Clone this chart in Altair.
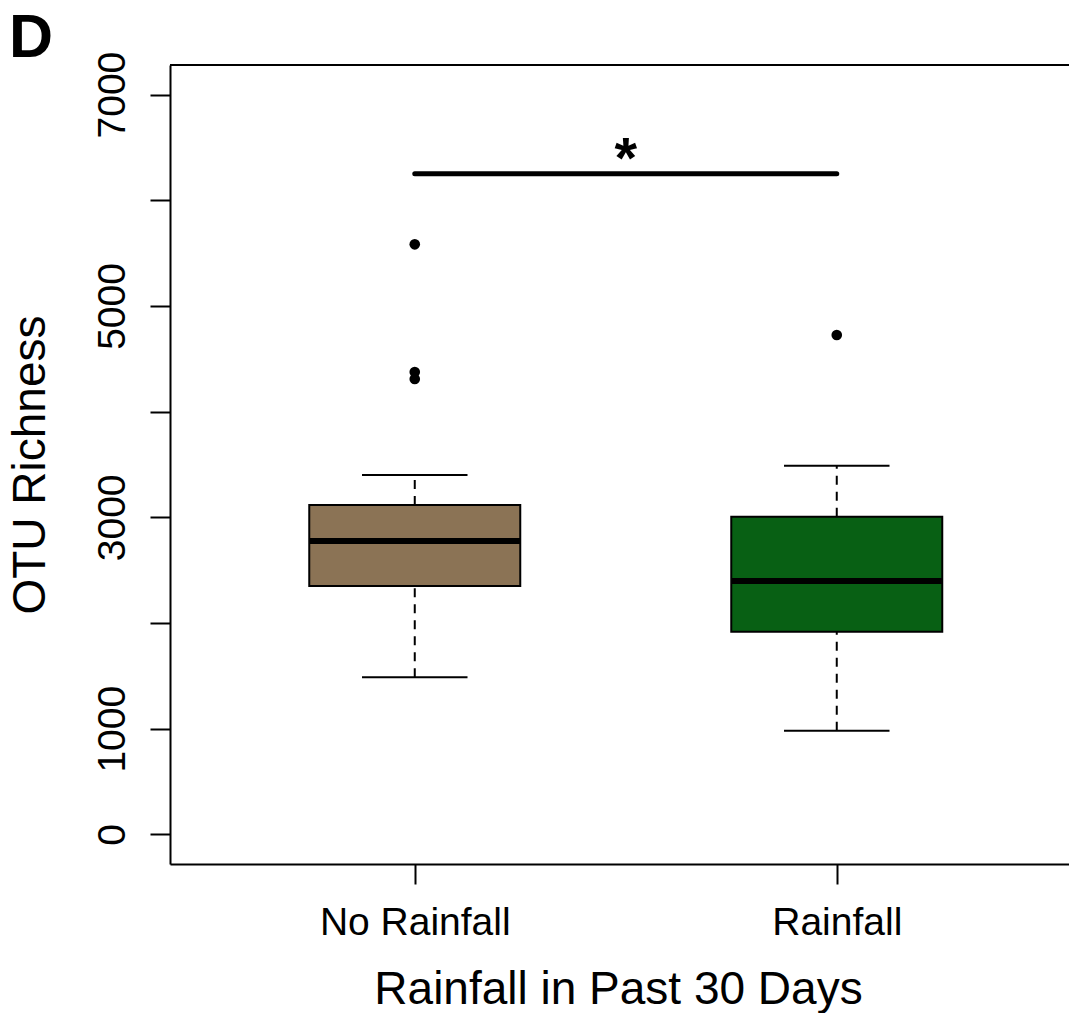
import altair as alt
import pandas as pd

# ---- data ----
groups = ["No Rainfall", "Rainfall"]
positions = [1, 2]
lower_whisker = [1486, 981]
q1 = [2350, 1918]
median = [2777, 2398]
q3 = [3117, 3006]
upper_whisker = [3400, 3489]
fill_colors = ["#8B7355", "#086014"]

outlier_group = ["No Rainfall", "No Rainfall", "No Rainfall", "Rainfall"]
outlier_value = [5583, 4375, 4309, 4725]

y_ticks = [0, 1000, 2000, 3000, 4000, 5000, 6000, 7000]
y_labeled = [0, 1000, 3000, 5000, 7000]
sig_y = 6250
sig_text = "*"
panel_label = "D"

# ---- layout constants ----
FONT = "Liberation Sans"
W, H = 899, 799
X_MIN = 0.42
X_MAX = X_MIN + W / 422.0
Y_MIN, Y_MAX = -280, 7280
BOX_HALF = 0.25
CAP_HALF = 0.125

pos_of = dict(zip(groups, positions))

box_df = pd.DataFrame({
    "group": groups,
    "pos": positions,
    "lo": lower_whisker,
    "q1": q1,
    "med": median,
    "q3": q3,
    "hi": upper_whisker,
    "color": fill_colors,
})
box_df["left"] = box_df["pos"] - BOX_HALF
box_df["right"] = box_df["pos"] + BOX_HALF
box_df["capl"] = box_df["pos"] - CAP_HALF
box_df["capr"] = box_df["pos"] + CAP_HALF

out_df = pd.DataFrame({
    "group": outlier_group,
    "pos": [pos_of[g] for g in outlier_group],
    "value": outlier_value,
})

sig_df = pd.DataFrame({
    "x1": [positions[0]], "x2": [positions[1]],
    "xm": [(positions[0] + positions[1]) / 2], "y": [sig_y], "t": [sig_text],
})

frame_df = pd.DataFrame({"x1": [X_MIN], "x2": [X_MAX], "y": [Y_MAX]})
label_df = pd.DataFrame({"t": [panel_label]})

x_label_expr = " : ".join(
    [f"datum.value == {p} ? '{g}'" for p, g in zip(positions, groups)]
) + " : ''"
y_label_expr = (
    "indexof([" + ",".join(str(v) for v in y_labeled) + "], datum.value) >= 0 ? datum.label : ''"
)

x_scale = alt.Scale(domain=[X_MIN, X_MAX], nice=False, zero=False)
y_scale = alt.Scale(domain=[Y_MIN, Y_MAX], nice=False, zero=False)

x_axis = alt.Axis(
    title="Rainfall in Past 30 Days",
    values=positions,
    labelExpr=x_label_expr,
    grid=False,
    domainColor="black", domainWidth=2,
    tickColor="black", tickWidth=2, tickSize=20,
    labelFont=FONT, labelFontSize=39, labelColor="black", labelLimit=1000,
    labelBaseline="alphabetic", labelPadding=50, labelFlush=False,
    titleFont=FONT, titleFontSize=46, titleFontWeight="normal", titleColor="black",
    titleBaseline="alphabetic", titleAlign="center", titleX=448, titleY=139,
    titleLimit=2000,
)
y_axis = alt.Axis(
    title="OTU Richness",
    values=y_ticks,
    format="d",
    labelExpr=y_label_expr,
    grid=False,
    domainColor="black", domainWidth=2,
    tickColor="black", tickWidth=2, tickSize=20,
    labelFont=FONT, labelFontSize=39, labelColor="black", labelLimit=1000,
    labelAngle=270, labelAlign="center", labelBaseline="alphabetic",
    labelPadding=26, labelFlush=False, labelOverlap=False,
    titleFont=FONT, titleFontSize=46, titleFontWeight="normal", titleColor="black",
    titleAngle=270, titleBaseline="alphabetic", titleAlign="center",
    titleX=-126, titleY=H / 2, titleLimit=2000,
)

def X(field):
    return alt.X(field, type="quantitative", scale=x_scale, axis=x_axis)

def Y(field):
    return alt.Y(field, type="quantitative", scale=y_scale, axis=y_axis)

base = alt.Chart(box_df)

whisk_up = base.mark_rule(color="black", strokeWidth=2, strokeDash=[9, 7]).encode(
    x=X("pos"), y=Y("q3"), y2="hi")
whisk_dn = base.mark_rule(color="black", strokeWidth=2, strokeDash=[9, 7]).encode(
    x=X("pos"), y=Y("lo"), y2="q1")
cap_hi = base.mark_rule(color="black", strokeWidth=2).encode(
    x=X("capl"), x2="capr", y=Y("hi"))
cap_lo = base.mark_rule(color="black", strokeWidth=2).encode(
    x=X("capl"), x2="capr", y=Y("lo"))
boxes = base.mark_rect(stroke="black", strokeWidth=2).encode(
    x=X("left"), x2="right", y=Y("q1"), y2="q3",
    fill=alt.Fill("color:N", scale=None))
med = base.mark_rule(color="black", strokeWidth=6).encode(
    x=X("left"), x2="right", y=Y("med"))

outliers = alt.Chart(out_df).mark_circle(color="black", opacity=1, size=113).encode(
    x=X("pos"), y=Y("value"))

sig_bar = alt.Chart(sig_df).mark_rule(color="black", strokeWidth=5, strokeCap="round").encode(
    x=X("x1"), x2="x2", y=Y("y"))
sig_star = alt.Chart(sig_df).mark_text(
    font=FONT, fontSize=58, fontWeight="bold", color="black",
    baseline="alphabetic", align="center", dy=4
).encode(x=X("xm"), y=Y("y"), text="t:N")

frame_top = alt.Chart(frame_df).mark_rule(color="black", strokeWidth=2).encode(
    x=X("x1"), x2="x2", y=Y("y"))

panel = alt.Chart(label_df).mark_text(
    font=FONT, fontSize=61, fontWeight="bold", color="black",
    baseline="alphabetic", align="left"
).encode(x=alt.value(-161), y=alt.value(-8), text="t:N")

chart = alt.layer(
    frame_top, whisk_up, whisk_dn, cap_hi, cap_lo, boxes, med, outliers,
    sig_bar, sig_star, panel
).properties(
    width=W, height=H,
    autosize=alt.AutoSizeParams(type="none"),
    padding={"left": 162, "top": 57, "right": 0, "bottom": 149},
).configure_view(stroke=None).configure(background="white")

chart.save("out.html", embed_options={"renderer": "svg", "actions": False})
